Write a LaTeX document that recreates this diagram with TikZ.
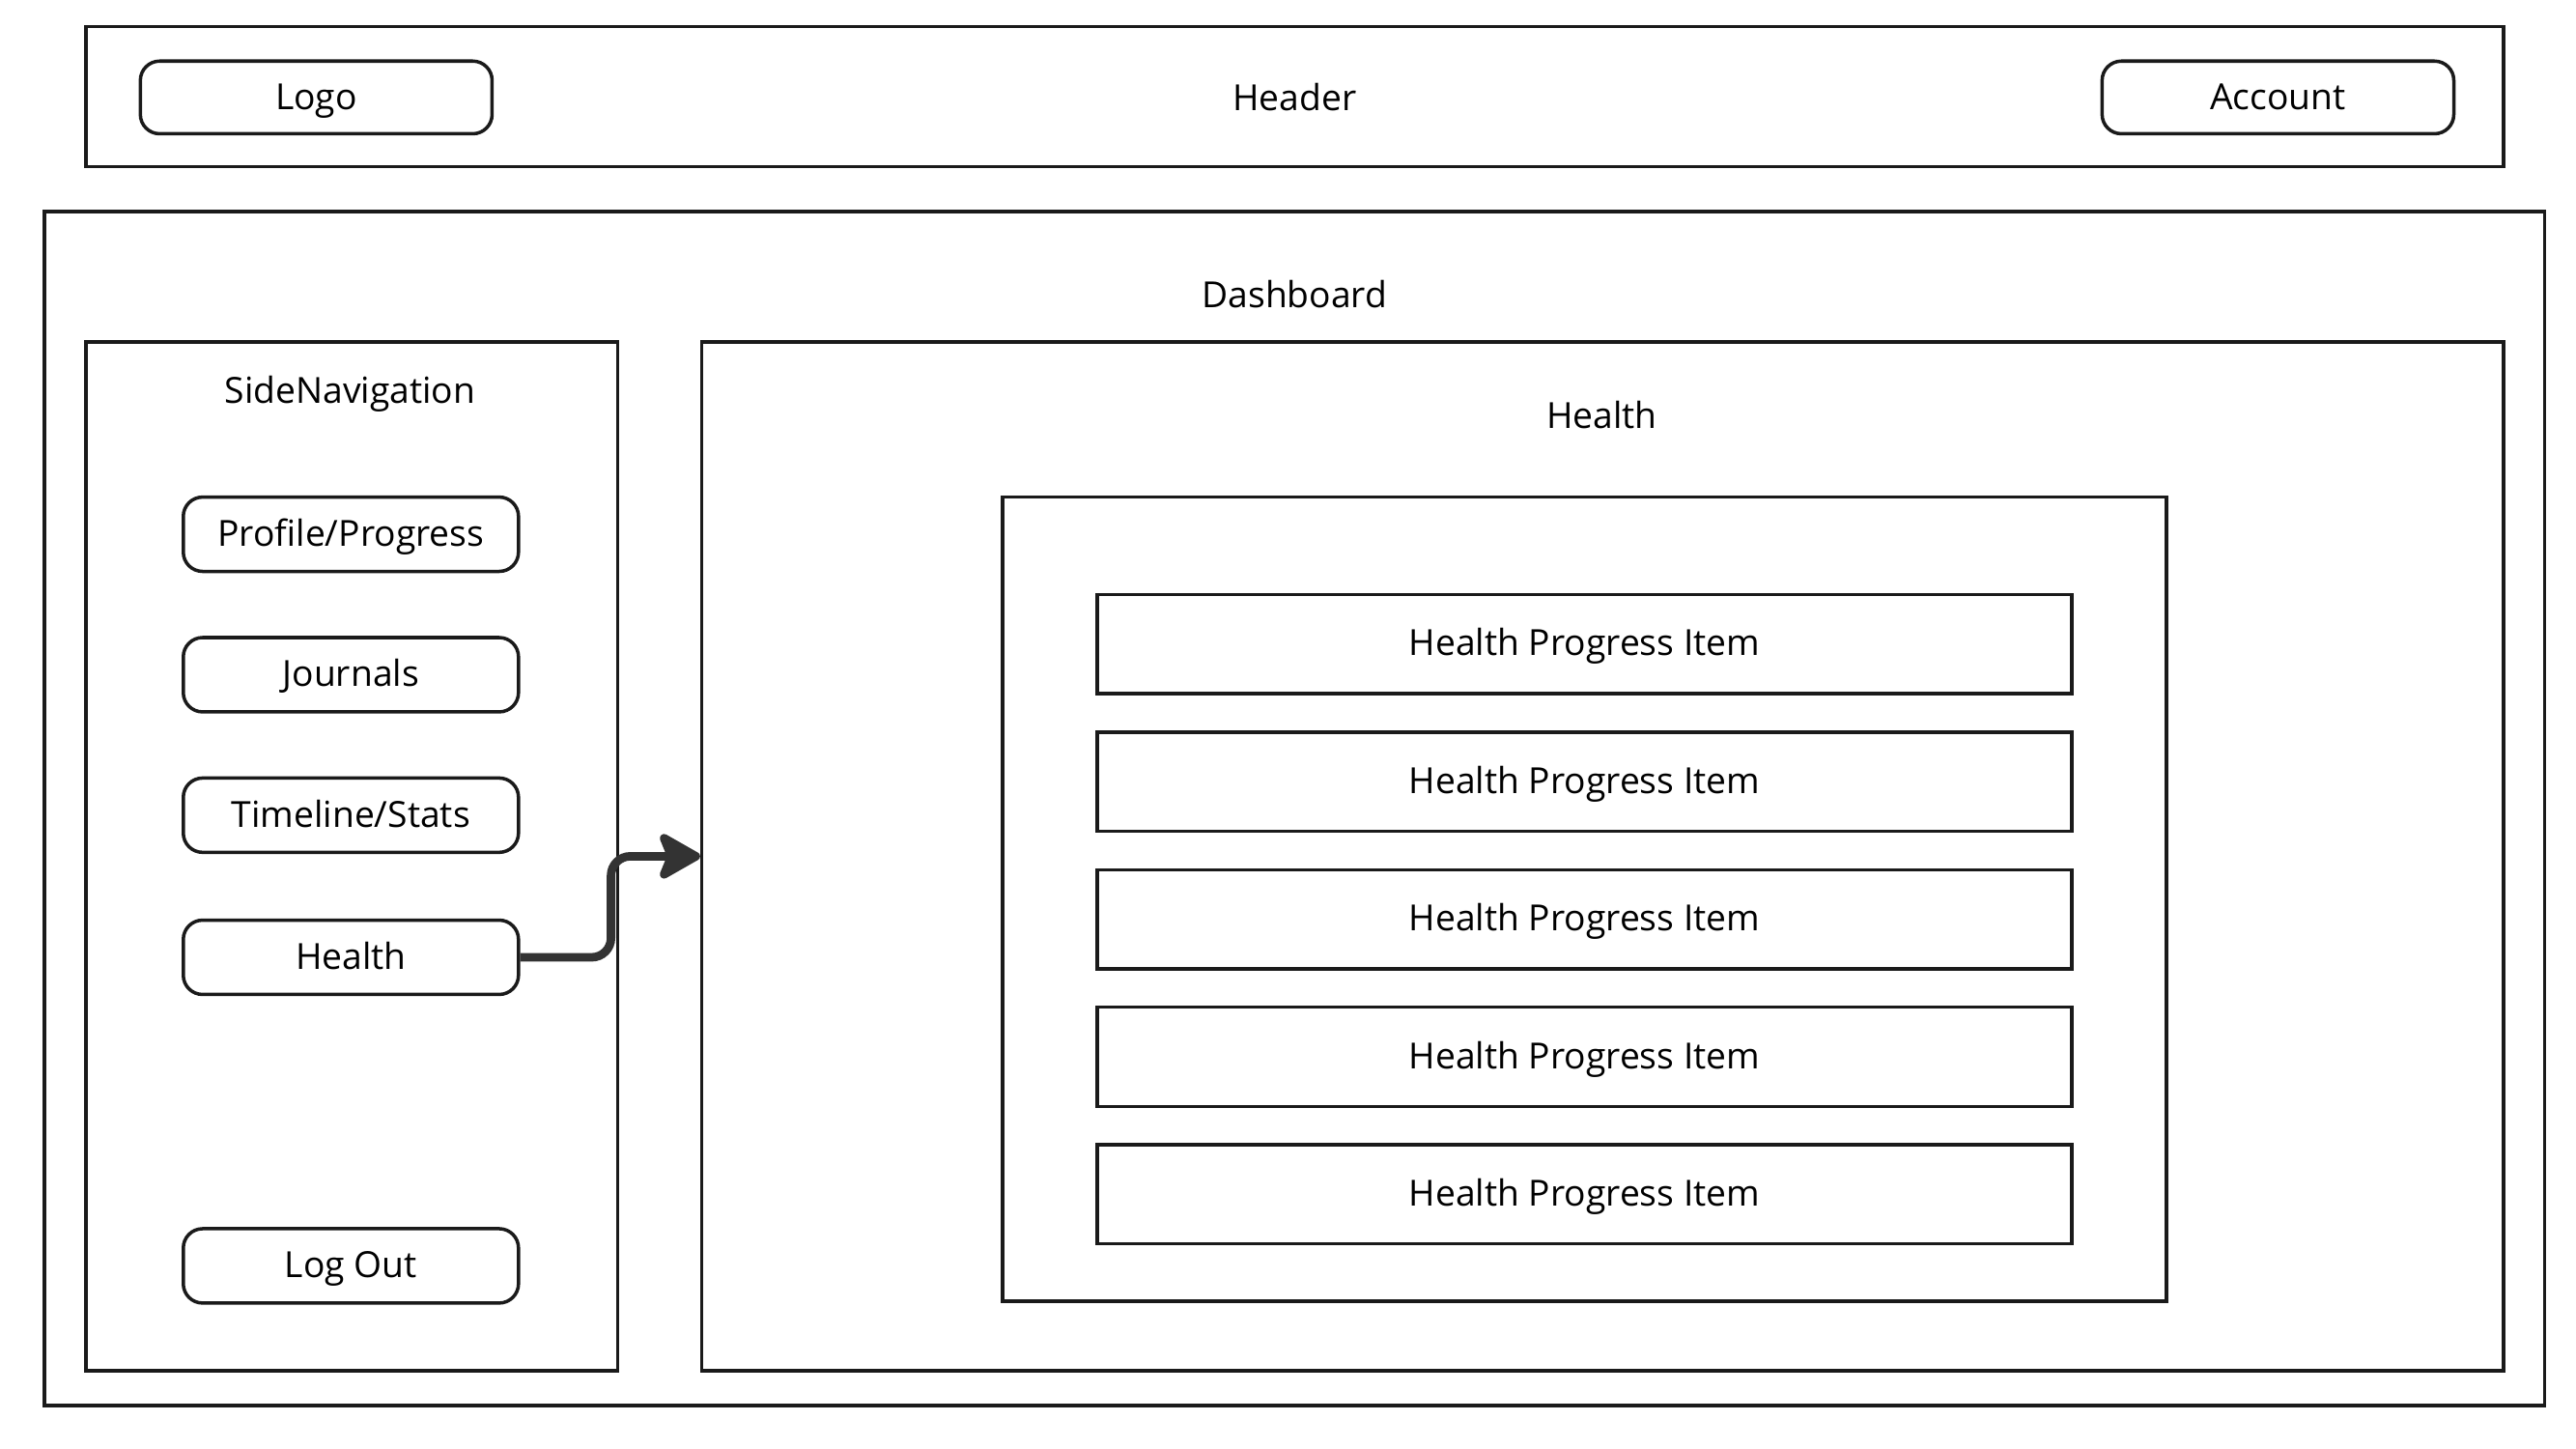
\documentclass[tikz,border=0pt]{standalone}
\usepackage{fontspec}
\setmainfont{Open Sans}
\usetikzlibrary{arrows.meta,positioning}

\def\upx{0.0171cm}
\definecolor{linegray}{HTML}{1A1A1A}
\definecolor{arrowgray}{HTML}{333333}

\begin{document}
\begin{tikzpicture}[x=0.0171cm, y=-0.0171cm,
    font=\fontsize{10.6pt}{13pt}\selectfont,
    every node/.style={text height=1.45ex, text depth=0.15ex},
    frame/.style={draw=linegray, line width=1pt, inner sep=0pt},
    navbtn/.style={frame, rounded corners=2mm, minimum width=203*\upx, minimum height=45*\upx},
    itembox/.style={frame, minimum width=590*\upx, minimum height=60*\upx},
    flowarrow/.style={draw=arrowgray, line width=2.5pt, rounded corners=2mm}]
    \useasboundingbox (0,0) rectangle (1560,877);

    % header bar
    \node[frame, minimum width=1464*\upx, minimum height=85*\upx] (header) at (784,58.5) {};
    \node (headertxt) at (784,60) {Header};
    \node[navbtn, minimum width=213*\upx, minimum height=44*\upx] (logo) at (191.5,59) {Logo};
    \node[navbtn, minimum width=213*\upx, minimum height=44*\upx] (account) at (1379.5,59) {Account};

    % dashboard
    \node[frame, minimum width=1514*\upx, minimum height=723*\upx] (dash) at (784,489.5) {};
    \node (dashtxt) at (784,179) {Dashboard};

    % side navigation
    \node[frame, minimum width=322*\upx, minimum height=623*\upx] (sidenav) at (213,518.5) {};
    \node (sidetxt) at (212,237) {SideNavigation};
    \node[navbtn] (profile) at (212.5,323.5) {Profile/Progress};
    \node[navbtn, below=38*\upx of profile] (journals) {Journals};
    \node[navbtn, below=38*\upx of journals] (timeline) {Timeline/Stats};
    \node[navbtn, below=39*\upx of timeline] (healthbtn) {Health};
    \node[navbtn] (logout) at (212.5,766.5) {Log Out};

    % health panel
    \node[frame, minimum width=1091*\upx, minimum height=623*\upx] (hpanel) at (970.5,518.5) {};
    \node (hpaneltxt) at (970,252) {Health};
    \node[frame, minimum width=705*\upx, minimum height=487*\upx] (hlist) at (959.5,544.5) {};
    \foreach \i in {0,...,4}
        \node[itembox] (item\i) at (959.5,{390+83.3*\i}) {Health Progress Item};

    \draw[flowarrow, -{Stealth[length=5mm, width=5.6mm, inset=1.1mm, round]}]
        (healthbtn.east) -- ++(55,0) |- (hpanel.west);
\end{tikzpicture}
\end{document}
